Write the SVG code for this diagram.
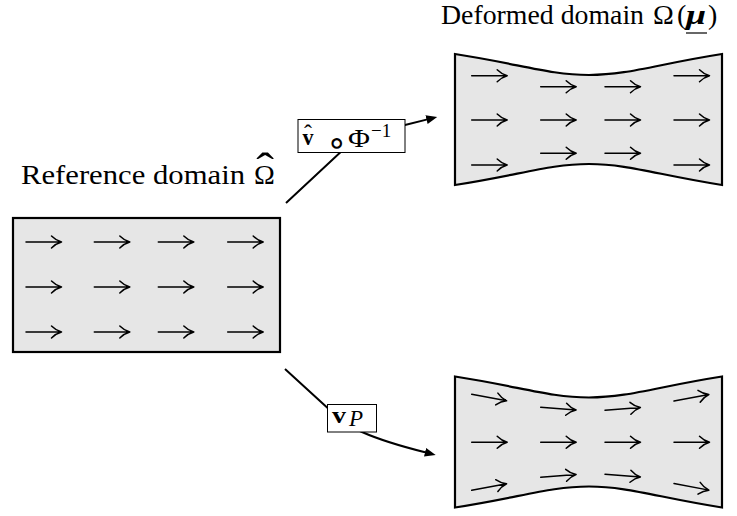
<svg xmlns="http://www.w3.org/2000/svg" width="737" height="516" viewBox="0 0 737 516">
  <style>
    .dom { fill: #e6e6e6; stroke: #000; stroke-width: 2.2; stroke-linejoin: miter; }
    .va { fill: none; stroke: #000; stroke-width: 1.5; stroke-linecap: round; stroke-linejoin: round; }
    .conn { fill: none; stroke: #000; stroke-width: 2; }
    .lbl { fill: #fff; stroke: #000; stroke-width: 1; }
    .t { font-family: "Liberation Serif", "DejaVu Serif", serif; fill: #000; }
    .sym { font-family: "DejaVu Sans", "DejaVu Serif", sans-serif; fill: #000; }
  </style>
  <defs>
    <g id="va">
      <path class="va" d="M0,0 H35.5 M25.5,-6 Q30,-1.5 35.5,0 Q30,1.5 25.5,6"/>
    </g>
    <marker id="ah" viewBox="0 -5 12 10" refX="1" refY="0" markerWidth="12" markerHeight="10" markerUnits="userSpaceOnUse" orient="auto">
      <path d="M0,-4.5 L11,0 L0,4.5 Z" fill="#000"/>
    </marker>
  </defs>

  <!-- Reference domain -->
  <g id="reference-domain">
    <text class="t" x="21" y="184" font-size="27" textLength="224" lengthAdjust="spacingAndGlyphs">Reference domain</text>
    <text class="t" x="254" y="184" font-size="28">Ω</text>
    <text class="t" x="265" y="183" font-size="28" text-anchor="middle" transform="translate(265,183) scale(1.9,1.6) translate(-265,-183)">ˆ</text>
    <rect class="dom" x="13" y="218" width="267" height="134"/>
    <use href="#va" x="26" y="242"/>
    <use href="#va" x="94.3" y="242"/>
    <use href="#va" x="158.3" y="242"/>
    <use href="#va" x="227.7" y="242"/>
    <use href="#va" x="26" y="287"/>
    <use href="#va" x="94.3" y="287"/>
    <use href="#va" x="158.3" y="287"/>
    <use href="#va" x="227.7" y="287"/>
    <use href="#va" x="26" y="332"/>
    <use href="#va" x="94.3" y="332"/>
    <use href="#va" x="158.3" y="332"/>
    <use href="#va" x="227.7" y="332"/>
  </g>

  <!-- Deformed domain (top) -->
  <g id="deformed-domain">
    <text class="t" x="441" y="24" font-size="27" textLength="203" lengthAdjust="spacingAndGlyphs">Deformed domain</text>
    <text class="t" x="653" y="24" font-size="28">Ω</text>
    <text class="t" x="677" y="24" font-size="28">(</text>
    <text class="t" x="686" y="24" font-size="28" font-weight="bold" font-style="italic" textLength="20" lengthAdjust="spacingAndGlyphs">μ</text>
    <text class="t" x="708" y="24" font-size="28">)</text>
    <line x1="686" y1="33" x2="707" y2="33" stroke="#000" stroke-width="1.2"/>
    <path class="dom" d="M455,54 C520,64 550,75 589,75 C628,75 658,64 722,54 L722,185 C658,175 628,164 589,164 C550,164 520,175 455,185 Z"/>
    <use href="#va" x="471.7" y="75.7"/>
    <use href="#va" x="540.7" y="86.7"/>
    <use href="#va" x="605" y="86.7"/>
    <use href="#va" x="674" y="75.7"/>
    <use href="#va" x="471.7" y="120"/>
    <use href="#va" x="540.7" y="120"/>
    <use href="#va" x="605" y="120"/>
    <use href="#va" x="674" y="120"/>
    <use href="#va" x="471.7" y="165"/>
    <use href="#va" x="540.7" y="153.3"/>
    <use href="#va" x="605" y="153.3"/>
    <use href="#va" x="674" y="165"/>
  </g>

  <!-- Deformed domain (bottom, Piola field) -->
  <g id="piola-domain">
    <path class="dom" d="M455,376.5 C520,386.5 550,397.5 589,397.5 C628,397.5 658,386.5 722,376.5 L722,507.5 C658,497.5 628,486.5 589,486.5 C550,486.5 520,497.5 455,507.5 Z"/>
    <use href="#va" transform="translate(471.7,394.3) rotate(10.6)"/>
    <use href="#va" transform="translate(540.7,407.3) rotate(4.4)"/>
    <use href="#va" transform="translate(605,410.3) rotate(-4.4)"/>
    <use href="#va" transform="translate(674,401) rotate(-10.6)"/>
    <use href="#va" x="471.7" y="442.3"/>
    <use href="#va" x="540.7" y="442.3"/>
    <use href="#va" x="605" y="442.3"/>
    <use href="#va" x="674" y="442.3"/>
    <use href="#va" transform="translate(471.7,490.3) rotate(-10.6)"/>
    <use href="#va" transform="translate(540.7,477.3) rotate(-4.4)"/>
    <use href="#va" transform="translate(605,474.3) rotate(4.4)"/>
    <use href="#va" transform="translate(674,483.6) rotate(10.6)"/>
  </g>

  <!-- Connectors -->
  <g id="connectors">
    <path class="conn" d="M286,203 L345,148 Q365,131 405,125 L427.5,119.4" marker-end="url(#ah)"/>
    <path class="conn" d="M285,369 L332,412 Q345,425 362,432 C380,440 400,446 426,452.5" marker-end="url(#ah)"/>
  </g>

  <!-- Labels -->
  <g id="label-top">
    <rect class="lbl" x="298" y="119.5" width="107" height="33"/>
    <text class="t" x="302.5" y="145" font-size="24" font-weight="bold" textLength="11" lengthAdjust="spacingAndGlyphs">v</text>
    <text class="t" x="308" y="141" font-size="24" text-anchor="middle">ˆ</text>
    <text class="sym" x="337" y="154" font-size="34" text-anchor="middle">∘</text>
    <text class="t" x="348" y="147" font-size="25" textLength="22" lengthAdjust="spacingAndGlyphs">Φ</text>
    <text class="t" x="371" y="137" font-size="19">−1</text>
  </g>
  <g id="label-bottom">
    <rect class="lbl" x="327.5" y="404.5" width="49" height="27.5"/>
    <text class="t" x="332" y="423" font-size="24" font-weight="bold" textLength="14" lengthAdjust="spacingAndGlyphs">v</text>
    <text class="t" x="349" y="426" font-size="23" font-style="italic">P</text>
  </g>
</svg>
